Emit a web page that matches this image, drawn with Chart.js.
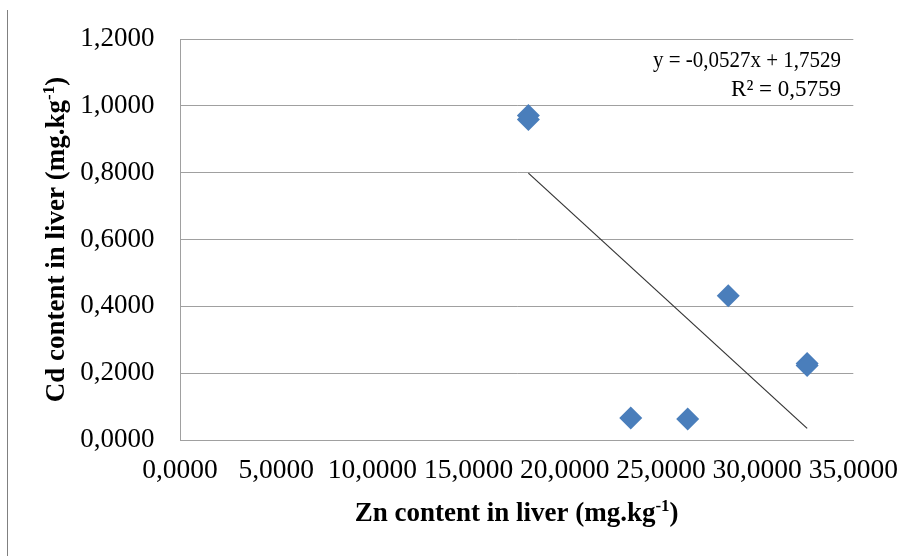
<!DOCTYPE html>
<html>
<head>
<meta charset="utf-8">
<script src="https://cdn.jsdelivr.net/npm/chart.js@4.4.1/dist/chart.umd.min.js"></script>
<style>
  html, body { margin: 0; padding: 0; background: #fff; }
  #wrap { position: relative; width: 915px; height: 556px; }
  #edge { position: absolute; left: 7px; top: 10px; width: 1px; height: 546px; background: #808080; }
</style>
</head>
<body>
<div id="wrap">
  <canvas id="chart" width="915" height="556"></canvas>
  <div id="edge"></div>
</div>
<script>
/* --------------- Data --------------------- */
const znLiver = [18.11, 18.11, 23.43, 26.39, 28.50, 32.60, 32.60];
const cdLiver = [0.971, 0.959, 0.066, 0.063, 0.432, 0.229, 0.223];

const trendSlope = -0.0527;
const trendIntercept = 1.7529;
const rSquared = 0.5759;

const xTicks = [0, 5, 10, 15, 20, 25, 30, 35];
const yTicks = [0, 0.2, 0.4, 0.6, 0.8, 1.0, 1.2];

const xTitle = ["Zn content in liver (mg.kg", "-1", ")"];
const yTitle = ["Cd content in liver (mg.kg", "-1", ")"];

/* --------------- Helpers --------------------- */
const serif = '"Liberation Serif", "Times New Roman", serif';
const fmt = (v, d) => Number(v).toFixed(d).replace(".", ",");
const gridGray = "#a0a0a0";

const points = znLiver.map((x, i) => ({ x: x, y: cdLiver[i] }));
const xMin = Math.min(...znLiver);
const xMax = Math.max(...znLiver);
const trendPoints = [xMin, xMax].map((x) => ({ x: x, y: trendSlope * x + trendIntercept }));

// axis title with superscript part
const drawTitle = (ctx, parts, cx, cy, rot) => {
  const mainFont = "bold 27px " + serif;
  const supFont = "bold 17px " + serif;
  ctx.save();
  ctx.translate(cx, cy);
  ctx.rotate(rot);
  ctx.font = mainFont;
  const w0 = ctx.measureText(parts[0]).width;
  const w2 = ctx.measureText(parts[2]).width;
  ctx.font = supFont;
  const w1 = ctx.measureText(parts[1]).width;
  let x = -(w0 + w1 + w2) / 2;
  ctx.textAlign = "left";
  ctx.textBaseline = "alphabetic";
  ctx.font = mainFont;
  ctx.fillText(parts[0], x, 0);
  x += w0;
  ctx.font = supFont;
  ctx.fillText(parts[1], x, -10);
  x += w1;
  ctx.font = mainFont;
  ctx.fillText(parts[2], x, 0);
  ctx.restore();
};

const textPlugin = {
  id: "textPlugin",
  afterDraw(chart) {
    const ctx = chart.ctx;
    const a = chart.chartArea;
    ctx.save();
    ctx.fillStyle = "#000";
    drawTitle(ctx, xTitle, (a.left + a.right) / 2, 521, 0);
    drawTitle(ctx, yTitle, 64, (a.top + a.bottom) / 2, -Math.PI / 2);

    // trendline label
    ctx.font = "23px " + serif;
    ctx.textAlign = "right";
    ctx.textBaseline = "alphabetic";
    const eq = "y = " + fmt(trendSlope, 4) + "x + " + fmt(trendIntercept, 4);
    ctx.fillText(eq, 841, 67, 188);
    ctx.fillText("R\u00B2 = " + fmt(rSquared, 4), 841, 96, 130);
    ctx.restore();
  },
};

/* --------------- Chart --------------------- */
new Chart(document.getElementById("chart"), {
  type: "scatter",
  plugins: [textPlugin],
  data: {
    datasets: [
      {
        data: trendPoints,
        showLine: true,
        borderColor: "#333333",
        borderWidth: 1.2,
        pointRadius: 0,
        fill: false,
      },
      {
        data: points,
        pointStyle: "rectRot",
        pointRadius: 11.5,
        pointHoverRadius: 11.5,
        backgroundColor: "#4A7EBB",
        borderWidth: 0,
      },
    ],
  },
  options: {
    responsive: false,
    animation: false,
    devicePixelRatio: 1,
    layout: { padding: { top: 38, right: 61.5, bottom: 0, left: 0 } },
    plugins: {
      legend: { display: false },
      tooltip: { enabled: false },
    },
    scales: {
      x: {
        type: "linear",
        min: 0,
        max: 35,
        afterBuildTicks: (s) => { s.ticks = xTicks.map((v) => ({ value: v })); },
        afterFit: (s) => { s.height = 116; },
        grid: { display: false, drawTicks: false },
        border: { display: true, color: gridGray, width: 1 },
        ticks: {
          padding: 17,
          maxRotation: 0,
          minRotation: 0,
          autoSkip: false,
          color: "#000",
          font: { family: serif, size: 27.5, lineHeight: 1 },
          callback: (v) => fmt(v, 4),
        },
      },
      y: {
        type: "linear",
        min: 0,
        max: 1.2,
        afterBuildTicks: (s) => { s.ticks = yTicks.map((v) => ({ value: v })); },
        afterFit: (s) => { s.width = 180; },
        grid: { color: gridGray, drawTicks: false },
        border: { display: true, color: gridGray, width: 1 },
        ticks: {
          padding: 25.5,
          autoSkip: false,
          color: "#000",
          font: { family: serif, size: 27, lineHeight: 1 },
          callback: (v) => fmt(v, 4),
        },
      },
    },
  },
});
</script>
</body>
</html>
